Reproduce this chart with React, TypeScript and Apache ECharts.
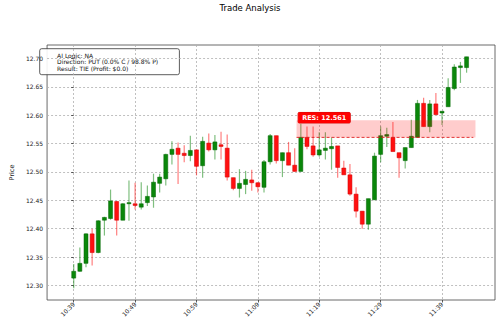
import React, { useEffect, useRef } from "react";
import * as echarts from "echarts";

const FONT = "DejaVu Sans";

const times = [
  "10:39", "10:40", "10:41", "10:42", "10:43", "10:44", "10:45", "10:46", "10:47", "10:48",
  "10:49", "10:50", "10:51", "10:52", "10:53", "10:54", "10:55", "10:56", "10:57", "10:58",
  "10:59", "11:00", "11:01", "11:02", "11:03", "11:04", "11:05", "11:06", "11:07", "11:08",
  "11:09", "11:10", "11:11", "11:12", "11:13", "11:14", "11:15", "11:16", "11:17", "11:18",
  "11:19", "11:20", "11:21", "11:22", "11:23", "11:24", "11:25", "11:26", "11:27", "11:28",
  "11:29", "11:30", "11:31", "11:32", "11:33", "11:34", "11:35", "11:36", "11:37", "11:38",
  "11:39", "11:40", "11:41", "11:42", "11:43",
];

const opens = [
  12.313, 12.325, 12.339, 12.391, 12.358, 12.415, 12.418, 12.448, 12.415, 12.444,
  12.444, 12.438, 12.446, 12.456, 12.480, 12.488, 12.531, 12.542, 12.533, 12.529,
  12.539, 12.511, 12.551, 12.539, 12.548, 12.542, 12.490, 12.471, 12.478, 12.486,
  12.481, 12.473, 12.518, 12.564, 12.520, 12.534, 12.512, 12.501, 12.561, 12.546,
  12.530, 12.538, 12.541, 12.546, 12.507, 12.495, 12.461, 12.431, 12.408, 12.451,
  12.531, 12.563, 12.561, 12.534, 12.520, 12.543, 12.561, 12.621, 12.580, 12.620,
  12.604, 12.615, 12.647, 12.684, 12.684,
];
const highs = [
  12.338, 12.367, 12.392, 12.400, 12.415, 12.421, 12.469, 12.449, 12.445, 12.485,
  12.481, 12.482, 12.476, 12.497, 12.497, 12.532, 12.554, 12.552, 12.547, 12.564,
  12.539, 12.562, 12.568, 12.565, 12.571, 12.566, 12.490, 12.505, 12.502, 12.504,
  12.482, 12.521, 12.567, 12.564, 12.534, 12.553, 12.542, 12.585, 12.580, 12.580,
  12.570, 12.570, 12.561, 12.546, 12.520, 12.514, 12.473, 12.431, 12.453, 12.534,
  12.580, 12.578, 12.588, 12.534, 12.543, 12.592, 12.627, 12.631, 12.627, 12.639,
  12.607, 12.665, 12.690, 12.694, 12.703,
];
const lows = [
  12.295, 12.324, 12.332, 12.335, 12.357, 12.388, 12.416, 12.388, 12.415, 12.414,
  12.434, 12.434, 12.440, 12.437, 12.464, 12.476, 12.513, 12.479, 12.517, 12.519,
  12.494, 12.490, 12.536, 12.522, 12.522, 12.485, 12.468, 12.455, 12.461, 12.467,
  12.464, 12.464, 12.513, 12.515, 12.491, 12.512, 12.501, 12.501, 12.540, 12.527,
  12.527, 12.522, 12.504, 12.490, 12.495, 12.458, 12.420, 12.400, 12.398, 12.451,
  12.517, 12.544, 12.536, 12.490, 12.506, 12.543, 12.561, 12.580, 12.570, 12.601,
  12.583, 12.615, 12.644, 12.657, 12.675,
];
const closes = [
  12.325, 12.339, 12.391, 12.358, 12.414, 12.420, 12.449, 12.415, 12.444, 12.446,
  12.441, 12.444, 12.457, 12.482, 12.491, 12.531, 12.540, 12.531, 12.529, 12.538,
  12.510, 12.554, 12.539, 12.553, 12.545, 12.491, 12.471, 12.480, 12.487, 12.481,
  12.474, 12.518, 12.564, 12.520, 12.534, 12.512, 12.501, 12.561, 12.545, 12.530,
  12.539, 12.542, 12.545, 12.508, 12.495, 12.461, 12.431, 12.408, 12.453, 12.528,
  12.564, 12.566, 12.536, 12.525, 12.543, 12.563, 12.621, 12.580, 12.620, 12.601,
  12.607, 12.649, 12.685, 12.687, 12.703,
];

const yTicks = [12.3, 12.35, 12.4, 12.45, 12.5, 12.55, 12.6, 12.65, 12.7];
const xTickIdx = [0, 10, 20, 30, 40, 50, 60];

const resLevel = 12.561;
const zoneTop = 12.591;
const zoneStart = 36.3;
const zoneEnd = 65.45;
const lineEnd = 65.1;

const legendLines = [
  "AI Logic: NA",
  "Direction: PUT (0.0% C / 98.8% P)",
  "Result: TIE (Profit: $0.0)",
];

const X_MIN = -4.34;
const X_MAX = 68.63;
const Y_MIN = 12.2744;
const Y_MAX = 12.7238;
const BODY_W = 0.65;

export default function App() {
  const ref = useRef<HTMLDivElement>(null);
  useEffect(() => {
    if (!ref.current) return;
    const chart = echarts.init(ref.current, null, { renderer: "svg" });
    const candleData = times.map((_, i) => [i, opens[i], closes[i], lows[i], highs[i]]);

    const option: any = {
      animation: false,
      backgroundColor: "#fff",
      textStyle: { fontFamily: FONT },
      title: {
        text: "Trade Analysis",
        left: "center",
        top: 3,
        padding: 0,
        textStyle: { fontSize: 8.5, fontWeight: "normal", color: "#000", fontFamily: FONT },
      },
      grid: {
        left: 36,
        right: 5,
        top: 45,
        bottom: 27,
        show: true,
        borderColor: "#444",
        borderWidth: 0.8,
        backgroundColor: "transparent",
      },
      xAxis: {
        type: "value",
        min: X_MIN,
        max: X_MAX,
        axisLine: { show: false },
        axisTick: { show: true, customValues: xTickIdx, length: 2.5, lineStyle: { color: "#333", width: 0.8 } },
        axisLabel: {
          customValues: xTickIdx,
          formatter: (v: number) => times[Math.round(v)] ?? "",
          rotate: 45,
          fontSize: 6,
          color: "#222",
          margin: 3,
          fontFamily: FONT,
        },
        splitLine: { show: true, lineStyle: { type: [2, 2], color: "#b0b0b0", width: 0.8 } },
      },
      yAxis: {
        type: "value",
        min: Y_MIN,
        max: Y_MAX,
        name: "Price",
        nameLocation: "middle",
        nameGap: 28,
        nameTextStyle: { fontSize: 6.5, color: "#222", fontFamily: FONT },
        axisLine: { show: false },
        axisTick: { show: true, customValues: yTicks, length: 2.5, lineStyle: { color: "#333", width: 0.8 } },
        axisLabel: {
          customValues: yTicks,
          formatter: (v: number) => v.toFixed(2),
          fontSize: 6,
          color: "#222",
          margin: 4,
          fontFamily: FONT,
        },
        splitLine: { show: true, lineStyle: { type: [2, 2], color: "#b0b0b0", width: 0.8 } },
      },
      series: [
        {
          type: "custom",
          name: "candles",
          data: candleData,
          encode: { x: 0, y: [1, 2, 3, 4] },
          z: 2,
          renderItem: (params: any, api: any) => {
            const x = api.value(0);
            const o = api.value(1);
            const c = api.value(2);
            const l = api.value(3);
            const h = api.value(4);
            const up = c >= o;
            const pO = api.coord([x, o]);
            const pC = api.coord([x, c]);
            const pL = api.coord([x, l]);
            const pH = api.coord([x, h]);
            const w = api.size([BODY_W, 0])[0];
            const top = Math.min(pO[1], pC[1]);
            const bh = Math.max(Math.abs(pO[1] - pC[1]), 1);
            return {
              type: "group",
              children: [
                {
                  type: "line",
                  shape: { x1: pH[0], y1: pH[1], x2: pL[0], y2: pL[1] },
                  style: { stroke: up ? "rgba(0,128,0,0.5)" : "rgba(255,0,0,0.5)", lineWidth: 1.2 },
                },
                {
                  type: "rect",
                  shape: { x: pO[0] - w / 2, y: top, width: w, height: bh },
                  style: {
                    fill: up ? "#0a870a" : "#ff1010",
                    stroke: up ? "#006400" : "#d00000",
                    lineWidth: 0.5,
                  },
                },
              ],
            };
          },
        },
        {
          type: "custom",
          name: "zone",
          data: [[zoneStart, zoneEnd, resLevel, zoneTop, lineEnd]],
          encode: { x: [0, 1], y: [2, 3] },
          z: 3,
          renderItem: (params: any, api: any) => {
            const p0 = api.coord([api.value(0), api.value(3)]);
            const p1 = api.coord([api.value(1), api.value(2)]);
            const pe = api.coord([api.value(4), api.value(2)]);
            return {
              type: "group",
              children: [
                {
                  type: "rect",
                  shape: { x: p0[0], y: p0[1], width: p1[0] - p0[0], height: p1[1] - p0[1] },
                  style: { fill: "rgba(255,0,0,0.2)" },
                },
                {
                  type: "line",
                  shape: { x1: p0[0], y1: p1[1], x2: pe[0], y2: p1[1] },
                  style: { stroke: "#e02020", lineWidth: 0.9, lineDash: [3, 2] },
                },
                {
                  type: "text",
                  x: p0[0] + 1.6,
                  y: p0[1] + 2.6,
                  style: {
                    text: "RES: " + resLevel.toFixed(3),
                    fill: "#fff",
                    fontSize: 6.5,
                    fontWeight: "bold",
                    fontFamily: FONT,
                    backgroundColor: "#ff0000",
                    borderColor: "#d00000",
                    borderWidth: 0.5,
                    borderRadius: 1,
                    padding: [2, 4, 1.5, 4],
                    align: "left",
                    verticalAlign: "bottom",
                  },
                },
              ],
            };
          },
        },
      ],
      graphic: [
        {
          type: "group",
          left: 39.3,
          top: 48.3,
          z: 10,
          children: [
            {
              type: "rect",
              shape: { x: 0, y: 0, width: 139.7, height: 26, r: 2 },
              style: { fill: "rgba(255,255,255,0.9)", stroke: "#333", lineWidth: 0.8 },
            },
            ...legendLines.map((t, i) => ({
              type: "text",
              x: 17.4,
              y: 6.4 + i * 6.7,
              style: {
                text: t,
                fill: "#111",
                fontSize: 6,
                fontFamily: FONT,
                verticalAlign: "middle",
                align: "left",
              },
            })),
          ],
        },
      ],
    };
    chart.setOption(option);
    return () => chart.dispose();
  }, []);
  return (
    <div
      ref={ref}
      style={{ position: "absolute", left: 0, top: 0, width: 500, height: 327 }}
    />
  );
}
